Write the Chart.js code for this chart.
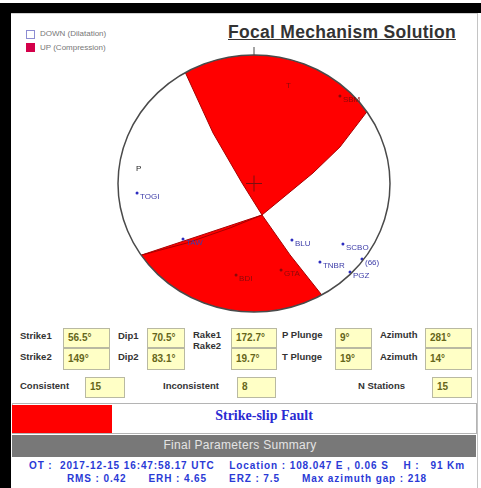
<!DOCTYPE html>
<html>
<head>
<meta charset="utf-8">
<script src="https://cdn.jsdelivr.net/npm/chart.js@4"></script>
<style>
  body { margin: 0; width: 481px; height: 488px; background: #fff; position: relative; overflow: hidden;
         font-family: "Liberation Sans", Arial, sans-serif; }
  .a { position: absolute; white-space: pre; }
  .lbl { position: absolute; font-weight: bold; font-size: 9.5px; line-height: 11px; color: #333; white-space: pre; }
  .box { position: absolute; box-sizing: border-box; background: #ffffc6; border: 1px solid #b9b9a2;
         font-weight: bold; font-size: 10px; color: #66661a; padding-left: 4px; white-space: pre; }
  .info { position: absolute; left: 12px; width: 470px; text-align: center; font-weight: bold; font-size: 10px;
          letter-spacing: 0.9px; color: #2a3ad6; white-space: pre; }
  #ball { position: absolute; left: 108px; top: 45px; }
</style>
</head>
<body>
<!-- frame -->
<div class="a" style="left:0;top:3px;width:481px;height:10px;background:#000"></div>
<div class="a" style="left:0;top:3px;width:11px;height:485px;background:#000"></div>
<div class="a" style="left:11px;top:13px;width:466px;height:1px;background:#d0d0d0"></div>
<div class="a" style="left:477px;top:13px;width:1px;height:475px;background:#c4c4c4"></div>

<!-- legend + title -->
<div class="a" style="left:26px;top:30px;width:7px;height:7px;border:1px solid #8c8cd2"></div>
<div class="a" style="left:40px;top:29px;font-size:8px;color:#777">DOWN (Dilatation)</div>
<div class="a" style="left:26px;top:43px;width:9px;height:9px;background:#d4004a"></div>
<div class="a" style="left:40px;top:43px;font-size:8px;color:#777">UP (Compression)</div>
<div class="a" style="left:228px;top:22px;font-weight:bold;font-size:17.5px;letter-spacing:0.3px;color:#333;text-decoration:underline">Focal Mechanism Solution</div>

<canvas id="ball" width="292" height="277"></canvas>

<!-- parameters -->
<div class="lbl" style="left:20px;top:330px">Strike1</div>
<div class="lbl" style="left:20px;top:351px">Strike2</div>
<div class="box" style="left:63px;top:328px;width:47px;height:20px;line-height:17px">56.5°</div>
<div class="box" style="left:63px;top:348px;width:47px;height:22px;line-height:19px">149°</div>
<div class="lbl" style="left:118px;top:330px">Dip1</div>
<div class="lbl" style="left:118px;top:351px">Dip2</div>
<div class="box" style="left:147px;top:328px;width:38px;height:20px;line-height:17px">70.5°</div>
<div class="box" style="left:147px;top:348px;width:38px;height:22px;line-height:19px">83.1°</div>
<div class="lbl" style="left:193px;top:329px">Rake1</div>
<div class="lbl" style="left:193px;top:340px">Rake2</div>
<div class="box" style="left:231px;top:328px;width:46px;height:20px;line-height:17px">172.7°</div>
<div class="box" style="left:231px;top:348px;width:46px;height:22px;line-height:19px">19.7°</div>
<div class="lbl" style="left:282px;top:329px">P Plunge</div>
<div class="lbl" style="left:282px;top:351px">T Plunge</div>
<div class="box" style="left:335px;top:328px;width:37px;height:20px;line-height:17px">9°</div>
<div class="box" style="left:335px;top:348px;width:37px;height:22px;line-height:19px">19°</div>
<div class="lbl" style="left:380px;top:329px">Azimuth</div>
<div class="lbl" style="left:380px;top:351px">Azimuth</div>
<div class="box" style="left:425px;top:328px;width:47px;height:20px;line-height:17px">281°</div>
<div class="box" style="left:425px;top:348px;width:47px;height:22px;line-height:19px">14°</div>

<div class="lbl" style="left:20px;top:380px">Consistent</div>
<div class="box" style="left:85px;top:377px;width:40px;height:21px;line-height:18px">15</div>
<div class="lbl" style="left:163px;top:380px">Inconsistent</div>
<div class="box" style="left:237px;top:377px;width:39px;height:21px;line-height:18px">8</div>
<div class="lbl" style="left:358px;top:380px">N Stations</div>
<div class="box" style="left:432px;top:377px;width:40px;height:21px;line-height:18px">15</div>

<!-- fault type -->
<div class="a" style="left:12px;top:403px;width:465px;height:31px;box-sizing:border-box;border:1px solid #b4b4b4"></div>
<div class="a" style="left:12px;top:405px;width:100px;height:28px;background:#ff0000"></div>
<div class="a" style="left:164px;top:408px;width:200px;text-align:center;font:bold 14px 'Liberation Serif',serif;color:#2a2ad2">Strike-slip Fault</div>
<div class="a" style="left:12px;top:435px;width:464px;height:22px;background:#787878"></div>
<div class="a" style="left:140px;top:438px;width:200px;text-align:center;font-size:12px;color:#e4e4e4;letter-spacing:0.3px">Final Parameters Summary</div>
<div class="info" style="top:460px">OT :  2017-12-15 16:47:58.17 UTC    Location : 108.047 E , 0.06 S    H :   91 Km</div>
<div class="info" style="top:473px">RMS : 0.42      ERH : 4.65      ERZ : 7.5      Max azimuth gap : 218</div>

<script>
// nodal plane traces (unit circle coords, x east, y north)
const plane1X = [-0.507, -0.301, -0.088, 0.059, 0.265, 0.50];   // strike 149
const plane1Y = [0.868, 0.393, 0.004, -0.245, -0.556, -0.87];
const plane2X = [-0.83, -0.493, -0.176, 0.059, 0.434, 0.632, 0.83]; // strike 56.5
const plane2Y = [-0.558, -0.463, -0.346, -0.245, 0.082, 0.284, 0.558];

// stations
const stationNames = ['TOGI', 'TAW', 'BLU', 'SCBO', 'TNBR', 'PGZ', '(66)', 'BDI', 'GTA', 'SBM'];
const stationX = [-0.860, -0.522, 0.279, 0.654, 0.485, 0.706, 0.794, -0.132, 0.199, 0.632];
const stationY = [-0.074, -0.432, -0.440, -0.471, -0.611, -0.689, -0.588, -0.712, -0.673, 0.681];
const stationInRed = [false, false, false, false, false, false, false, true, true, true];

// P / T axes
const axisNames = ['P', 'T'];
const axisX = [-0.89, 0.213];
const axisY = [0.145, 0.79];

const pts = (xs, ys) => xs.map((v, i) => ({ x: v, y: ys[i] }));
const p1 = pts(plane1X, plane1Y);
const p2 = pts(plane2X, plane2Y);
const iX = 3; // intersection index in plane1
const jX = 3; // intersection index in plane2

// compressional quadrants; corner points sit outside the ball and get clipped away
const northRed = [
  ...p1.slice(0, iX + 1).reverse(),
  { x: -0.6, y: 1.3 }, { x: 1.3, y: 1.3 }, { x: 1.3, y: 0.7 },
  ...p2.slice(jX).reverse()
];
const southRed = [
  ...p2.slice(0, jX + 1).reverse(),
  ...p1.slice(iX),
  { x: 0.6, y: -1.3 }, { x: -1.3, y: -1.3 }, { x: -1.3, y: -0.7 },
  p2[0]
];

const ballPlugin = {
  id: 'ball',
  beforeDatasetsDraw(chart) {
    const { ctx, scales: { x, y } } = chart;
    const cx = x.getPixelForValue(0), cy = y.getPixelForValue(0);
    ctx.save();
    ctx.beginPath();
    ctx.ellipse(cx, cy, x.getPixelForValue(1) - cx, cy - y.getPixelForValue(1), 0, 0, Math.PI * 2);
    ctx.clip();
  },
  afterDatasetsDraw(chart) {
    const { ctx, scales: { x, y } } = chart;
    ctx.restore();
    const cx = x.getPixelForValue(0), cy = y.getPixelForValue(0);
    const rx = x.getPixelForValue(1) - cx, ry = cy - y.getPixelForValue(1);
    ctx.save();
    ctx.strokeStyle = '#4a4a4a';
    ctx.lineWidth = 1.5;
    ctx.beginPath();
    ctx.ellipse(cx, cy, rx, ry, 0, 0, Math.PI * 2);
    ctx.stroke();
    // north tick
    ctx.lineWidth = 1;
    ctx.beginPath();
    ctx.moveTo(cx, cy - ry);
    ctx.lineTo(cx, cy - ry - 8);
    ctx.stroke();
    // centre cross
    ctx.strokeStyle = '#7a1010';
    ctx.beginPath();
    ctx.moveTo(cx - 8, cy); ctx.lineTo(cx + 8, cy);
    ctx.moveTo(cx, cy - 8); ctx.lineTo(cx, cy + 8);
    ctx.stroke();
    // labels
    ctx.font = '8px "Liberation Sans", Arial, sans-serif';
    ctx.textBaseline = 'middle';
    chart.data.datasets.forEach((ds, i) => {
      if (!ds.labels) return;
      chart.getDatasetMeta(i).data.forEach((el, j) => {
        ctx.fillStyle = ds.labelColors[j];
        ctx.fillText(ds.labels[j], el.x + 3, el.y + 4);
      });
    });
    ctx.restore();
  }
};

new Chart(document.getElementById('ball'), {
  type: 'scatter',
  data: {
    datasets: [
      {
        data: pts(stationX, stationY),
        labels: stationNames,
        labelColors: stationInRed.map(r => r ? '#8a0a0a' : '#3c3ca8'),
        pointRadius: 1.5,
        pointBackgroundColor: stationInRed.map(r => r ? '#8a0a0a' : '#2c2cc0'),
        pointBorderWidth: 0
      },
      {
        data: pts(axisX, axisY),
        labels: axisNames,
        labelColors: ['#222', '#8a0a0a'],
        pointRadius: 0
      },
      {
        data: northRed,
        showLine: true, fill: 'shape', tension: 0, pointRadius: 0,
        backgroundColor: '#ff0000', borderColor: '#a80000', borderWidth: 1
      },
      {
        data: southRed,
        showLine: true, fill: 'shape', tension: 0, pointRadius: 0,
        backgroundColor: '#ff0000', borderColor: '#a80000', borderWidth: 1
      }
    ]
  },
  options: {
    responsive: false,
    animation: false,
    layout: { padding: 10 },
    scales: {
      x: { type: 'linear', min: -1, max: 1, display: false },
      y: { type: 'linear', min: -1, max: 1, display: false }
    },
    plugins: { legend: { display: false }, tooltip: { enabled: false } }
  },
  plugins: [ballPlugin]
});
</script>
</body>
</html>
